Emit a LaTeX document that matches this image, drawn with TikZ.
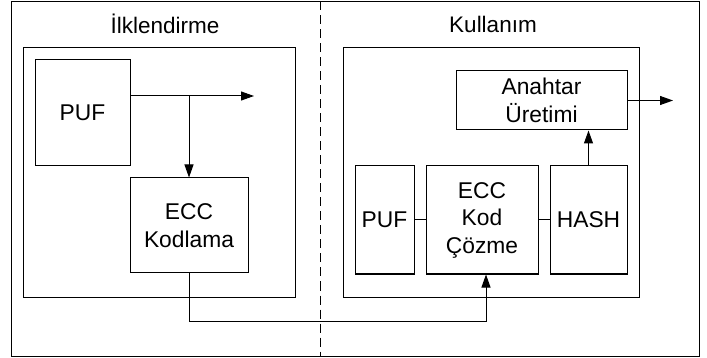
\documentclass[tikz,border=0pt]{standalone}
\usepackage{fontspec}
\setmainfont{Liberation Sans}
\usetikzlibrary{arrows.meta}
\tikzset{
    blok/.style={draw,line width=1pt,align=center,inner sep=0pt,
        font=\fontsize{22.8}{27.5}\selectfont},
    ok/.style={-{Triangle[length=13pt,width=9pt]},line width=1pt}
}
\begin{document}
\begin{tikzpicture}[x=1pt,y=-1pt,line width=1pt]
    \useasboundingbox (0,0) rectangle (707,358);
    \draw (11,1.5) rectangle (699,356.5);
    \draw[dash pattern=on 9pt off 5pt] (320,1.5) -- (320,356.5);
    \node[font=\fontsize{22.5}{26}\selectfont] (baslikA) at (165,24) {İlklendirme};
    \node[font=\fontsize{22.5}{26}\selectfont] (baslikB) at (493,24) {Kullanım};
    % ilklendirme
    \draw (23,48) rectangle (295,297);
    \node[blok,minimum width=95pt,minimum height=106pt] (pufA) at (82.5,113) {PUF};
    \node[blok,minimum width=118pt,minimum height=95pt] (eccA) at (189,225.5) {ECC\\Kodlama};
    \coordinate (dal) at (189,96);
    \coordinate (cikisA) at (254,96);
    \draw[ok] (pufA.east |- dal) -- (cikisA);
    \draw[ok] (dal) -- (eccA.north);
    % kullanim
    \draw (343,48) rectangle (639,297);
    \node[blok,minimum width=171pt,minimum height=59pt] (anahtar) at (541.5,100.5) {Anahtar\\Üretimi};
    \node[blok,minimum width=59pt,minimum height=108pt] (pufB) at (384.5,220) {PUF};
    \node[blok,minimum width=112pt,minimum height=108pt] (eccB) at (482,220) {ECC\\Kod\\Çözme};
    \node[blok,minimum width=77pt,minimum height=108pt] (hash) at (588.5,220) {HASH};
    \coordinate (cikisB) at (673,100.5);
    \draw (pufB) -- (eccB);
    \draw (eccB) -- (hash);
    \draw[ok] (hash.north) -- (hash.north |- anahtar.south);
    \draw[ok] (anahtar.east) -- (cikisB);
    \draw[ok] (eccA.south) -- ++(0,48) -| ([xshift=4pt]eccB.south);
\end{tikzpicture}
\end{document}
